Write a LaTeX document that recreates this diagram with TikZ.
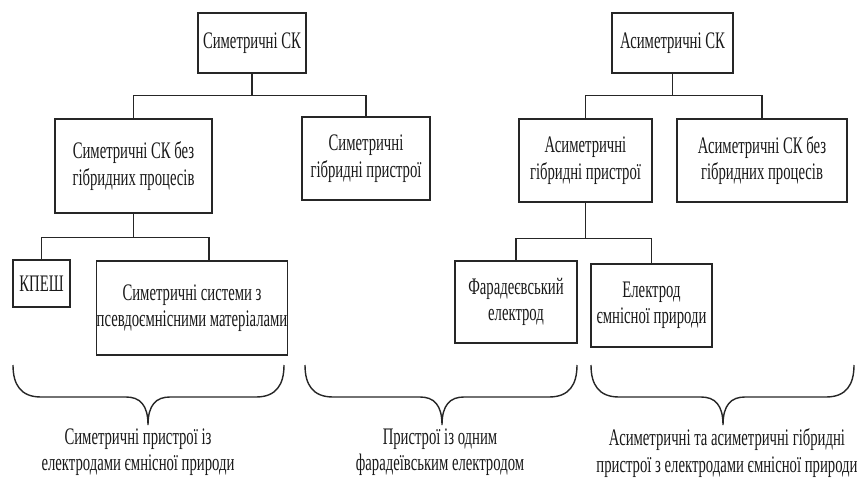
\documentclass[tikz,border=0pt]{standalone}
\usepackage{fontspec}
\setmainfont[FakeStretch=0.62]{Liberation Serif}
\begin{document}
\begin{tikzpicture}[x=0.02cm,y=-0.02cm,
    blok/.style={draw=black!85,line width=0.9pt,inner sep=0pt,align=center,
        font=\fontsize{13.5}{15}\selectfont,text=black!90},
    pidpys/.style={align=center,font=\fontsize{13.5}{15}\selectfont,text=black!90},
    zvyazok/.style={draw=black!85,line width=0.7pt},
    duzhka/.style={draw=black!85,line width=0.8pt}]
        \useasboundingbox (0,0) rectangle (865,486);
        % верхній рівень
        \node [blok,minimum width=2.16cm,minimum height=1.2cm] (symsk) at (252,43) {Симетричні СК};
        \node [blok,minimum width=2.42cm,minimum height=1.2cm] (asymsk) at (672.5,43) {Асиметричні СК};
        % другий рівень
        \node [blok,minimum width=3.14cm,minimum height=1.88cm] (symbez) at (133.5,166) {Симетричні СК без\\гібридних процесів};
        \node [blok,minimum width=2.56cm,minimum height=1.66cm] (symhyb) at (366,158.5) {Симетричні\\гібридні пристрої};
        \node [blok,minimum width=2.66cm,minimum height=1.66cm] (asymhyb) at (585.5,160.5) {Асиметричні\\гібридні пристрої};
        \node [blok,minimum width=3.4cm,minimum height=1.66cm] (asymbez) at (762,160.5) {Асиметричні СК без\\гібридних процесів};
        % третій рівень
        \node [blok,minimum width=1.14cm,minimum height=0.94cm] (kpesh) at (41.5,283.5) {КПЕШ};
        \node [blok,minimum width=3.64cm,minimum height=1.88cm] (sysps) at (192,308) {Симетричні системи з\\псевдоємнісними матеріалами};
        \node [blok,minimum width=2.44cm,minimum height=1.64cm] (farad) at (516,302) {Фарадеєвський\\електрод};
        \node [blok,minimum width=2.42cm,minimum height=1.66cm] (elcap) at (651.5,305.5) {Електрод\\ємнісної природи};
        % зв'язки
        \draw [zvyazok] (symsk.south) -- ++(0,22) -| (symbez.north);
        \draw [zvyazok] (symsk.south) -- ++(0,22) -| (symhyb.north);
        \draw [zvyazok] (asymsk.south) -- ++(0,22) -| (asymhyb.north);
        \draw [zvyazok] (asymsk.south) -- ++(0,22) -| (asymbez.north);
        \draw [zvyazok] (symbez.south) -- ++(0,24) -| (kpesh.north);
        \draw [zvyazok] (symbez.south) -- ++(0,24) -| ([xshift=0.34cm]sysps.north);
        \draw [zvyazok] (asymhyb.south) -- ++(0,36) -| (farad.north);
        \draw [zvyazok] (asymhyb.south) -- ++(0,36) -| (elcap.north);
        % дужки
        \draw [duzhka] (13,365) .. controls (13,385) and (21,397) .. (41,397) -- (126,397) .. controls (140,397) and (148,405) .. (148,425) .. controls (148,405) and (156,397) .. (170,397) -- (256,397) .. controls (276,397) and (284,385) .. (284,365);
        \draw [duzhka] (305,365) .. controls (305,385) and (313,397) .. (333,397) -- (420,397) .. controls (434,397) and (442,405) .. (442,425) .. controls (442,405) and (450,397) .. (464,397) -- (549,397) .. controls (569,397) and (577,385) .. (577,365);
        \draw [duzhka] (591,365) .. controls (591,385) and (599,397) .. (619,397) -- (701,397) .. controls (715,397) and (723,405) .. (723,425) .. controls (723,405) and (731,397) .. (745,397) -- (826,397) .. controls (846,397) and (854,385) .. (854,365);
        % підписи
        \node [pidpys] (sympidp) at (138,452) {Симетричні пристрої із\\електродами ємнісної природи};
        \node [pidpys] (faradpidp) at (440,452) {Пристрої із одним\\фарадеївським електродом};
        \node [pidpys] (asympidp) at (727,453) {Асиметричні та асиметричні гібридні\\пристрої з електродами ємнісної природи};
    \end{tikzpicture}
\end{document}
